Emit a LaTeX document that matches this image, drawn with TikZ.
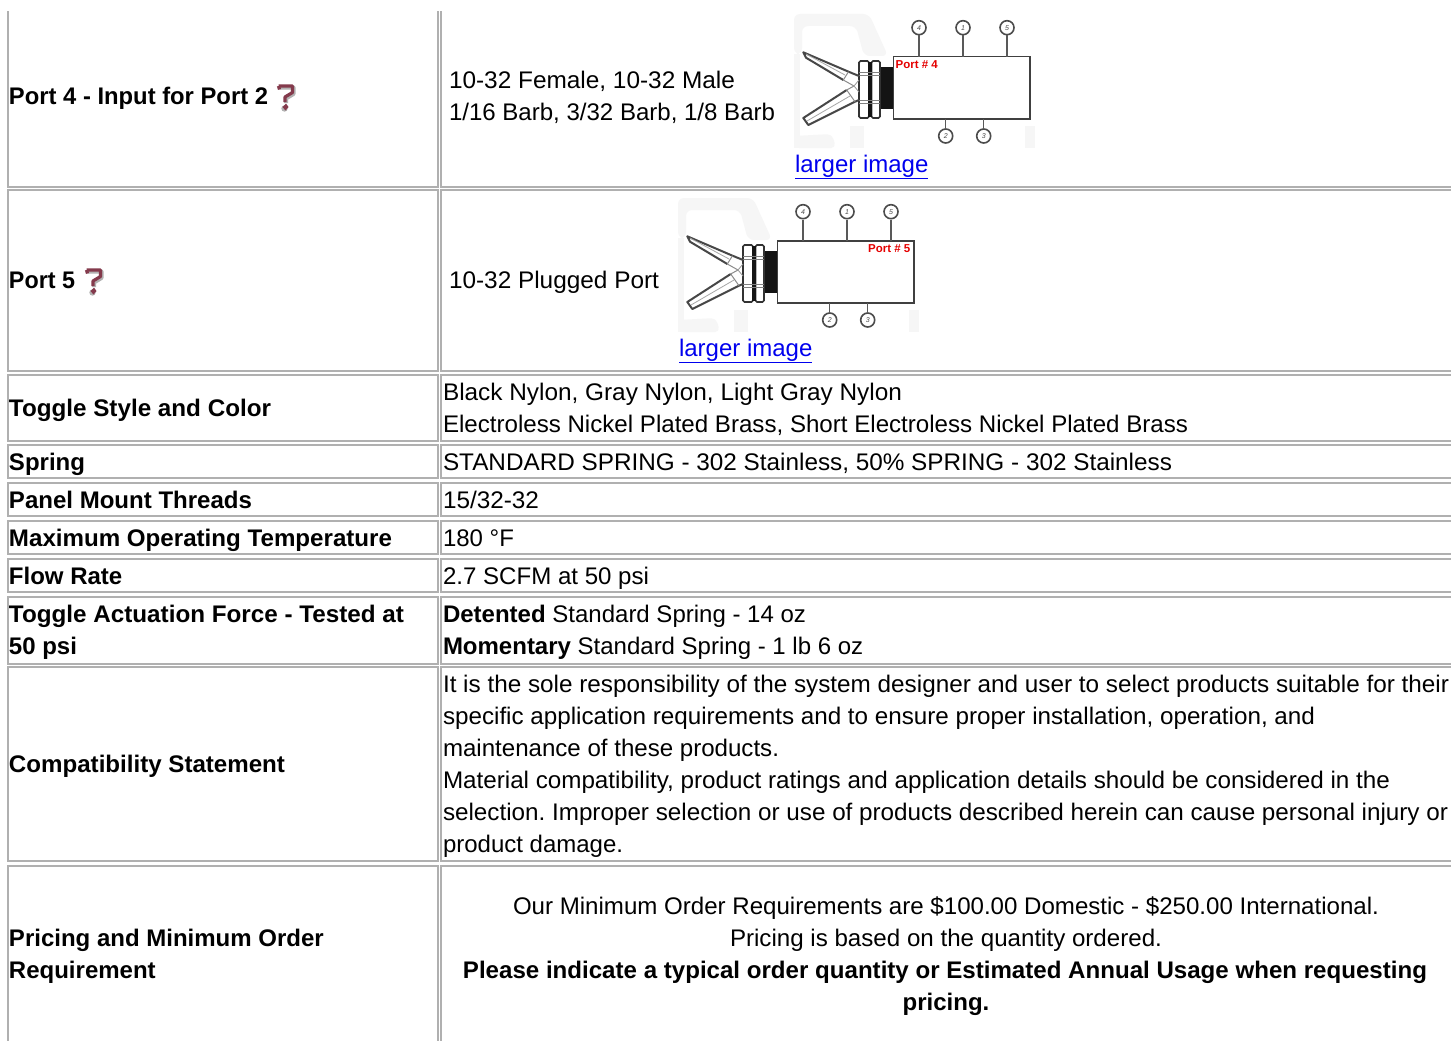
\documentclass[tikz,border=0pt]{standalone}
\usepackage{fontspec}
\setmainfont{Liberation Sans}
\frenchspacing
\definecolor{gridc}{HTML}{B0B0B0}
\definecolor{linkc}{HTML}{0000EE}
\definecolor{tipc}{HTML}{843A4C}
\definecolor{fadec}{HTML}{F6F6F6}
\newcommand{\fitw}[2]{\resizebox{#1pt}{\height}{#2}}
\tikzset{
 cellbox/.style={draw=gridc,line width=2pt},
 txt/.style={anchor=base west,inner sep=0pt,outer sep=0pt,font=\fontsize{24}{32}\selectfont,text=black},
 btxt/.style={txt,font=\fontsize{24}{32}\selectfont\bfseries},
 ctxt/.style={txt,anchor=base},
 cbtxt/.style={btxt,anchor=base},
 lnk/.style={txt,text=linkc},
 callout/.style={circle,draw=black!70,line width=1.6pt,minimum size=14pt,inner sep=0pt,font=\fontsize{7}{7}\selectfont\itshape,text=black!70},
 leader/.style={draw=black!65,line width=1.2pt},
 portlab/.style={anchor=base west,inner sep=0pt,font=\fontsize{11.5}{11.5}\selectfont\bfseries,text=red!90!black},
}
\newcommand{\tipicon}[2]{%
\begin{scope}[shift={(#1,#2)}]
 \draw[black!30,line width=4pt,line join=round] (-6.5,-9.5) -- (7.5,-9.5) -- (7.5,-3) -- (0,1.5) -- (0,6);
 \fill[black!30] (-1.5,11.5) circle (3.2);
 \draw[tipc,line width=3.2pt,line join=round] (-7.5,-11) -- (-6.5,-7.5) (-7.5,-11) -- (6.5,-11) -- (6.5,-4.5) -- (-1,0) -- (-1,5);
 \fill[tipc] (-3.5,10) -- (0,6.5) -- (2.5,10) -- (-0.5,13.5) -- cycle;
\end{scope}}
% #1 prefix, #2 x, #3 y, #4 label x, #5 label text
\newcommand{\portimg}[5]{%
\begin{scope}[shift={(#2,#3)}]
 \fill[fadec,rounded corners=6pt] (0,0) -- (75,0) -- (94,42) -- (70,42) -- (62,12) -- (8,12) -- (8,40) -- (0,40) -- cycle;
 \fill[fadec] (0,40) rectangle (6,134);
 \fill[fadec,rounded corners=5pt] (0,134) -- (0,122) -- (38,120) -- (42,134) -- cycle;
 \fill[fadec] (56,112) rectangle (70,134);
 \fill[fadec] (231,112) rectangle (241,134);
 \fill[black!92] (86,53) rectangle (99.5,95);
 \draw[black!80,line width=1.6pt,fill=white,rounded corners=1.5pt] (65,47) rectangle (75,104);
 \draw[black!80,line width=1.6pt,fill=white,rounded corners=1.5pt] (77.5,47) rectangle (86,104);
 \fill[black!92] (74,48) rectangle (78,103);
 \draw[black!50,line width=.8pt] (65,58) -- (86,58) (65,61) -- (86,61) (65,86) -- (86,86) (65,89) -- (86,89);
 \draw[black!72,line width=2pt,line join=round] (65,62) -- (54.5,57.7) -- (9.3,38.3) -- (12,43.7) -- (49.3,66);
 \draw[black!72,line width=2pt,line join=round] (65,86) -- (61,87.7) -- (14.3,111) -- (9.3,104) -- (52.7,76);
 \draw[black!45,line width=1pt,line join=round] (54.5,57.7) -- (49.3,66) -- (60,72) -- (52.7,76) -- (61,87.7);
 \draw[black!40,line width=.8pt] (60,72) -- (65,66) (60,72) -- (65,78);
 \draw[black!35,line width=.8pt] (12,40) -- (51,61) (13,107) -- (56,82);
 \node[draw=black!75,line width=1.6pt,fill=none,minimum width=136.7pt,minimum height=62.3pt,inner sep=0pt,outer sep=0pt,anchor=north west] (#1body) at (99.3,42.7) {};
 \node[callout] (#1a) at (125,13.7) {4};
 \node[callout] (#1b) at (169,13.7) {1};
 \node[callout] (#1c) at (213,13.7) {5};
 \node[callout] (#1d) at (151.7,122) {2};
 \node[callout] (#1e) at (189.7,122) {3};
 \draw[leader] (#1a) -- (#1a |- #1body.north);
 \draw[leader] (#1b) -- (#1b |- #1body.north);
 \draw[leader] (#1c) -- (#1c |- #1body.north);
 \draw[leader] (#1d) -- (#1d |- #1body.south);
 \draw[leader] (#1e) -- (#1e |- #1body.south);
 \node[portlab] (#1lab) at (#4,54) {#5};
\end{scope}}
\begin{document}
\begin{tikzpicture}[x=1pt,y=-1pt]
\useasboundingbox (0,0) rectangle (1451,1041);
\fill[white] (0,0) rectangle (1451,1041);
\clip (0,0) rectangle (1451,1041);
\foreach \t/\b in {-20/187,190/370.5,375/441,445/478,483/516,521/554,559/592,597/664,667/861,865.5/1080}{
 \draw[cellbox] (8.2,\t) rectangle (438,\b);
 \draw[cellbox] (441,\t) rectangle (1480,\b);
}
\fill[white] (0,0) rectangle (1451,11);
% row labels
\node[btxt] (l1) at (9,104) {\fitw{259}{Port 4 - Input for Port 2}};
\tipicon{286}{97}
\node[btxt] (l2) at (9,288) {\fitw{66}{Port 5}};
\tipicon{94}{281}
\node[btxt] (l3) at (9,416) {\fitw{262}{Toggle Style and Color}};
\node[btxt] (l4) at (9,470) {Spring};
\node[btxt] (l5) at (9,508) {\fitw{243}{Panel Mount Threads}};
\node[btxt] (l6) at (9,546) {\fitw{383}{Maximum Operating Temperature}};
\node[btxt] (l7) at (9,584) {Flow Rate};
\node[btxt] (l8) at (9,622) {\fitw{395}{Toggle Actuation Force - Tested at}};
\node[btxt] (l8b) at (9,654) {50 psi};
\node[btxt] (l9) at (9,772) {\fitw{276}{Compatibility Statement}};
\node[btxt] (l10) at (9,946) {Pricing and Minimum Order};
\node[btxt] (l10b) at (9,978) {Requirement};
% port rows
\node[txt] (v1a) at (449,88.5) {\fitw{286}{10-32 Female, 10-32 Male}};
\node[txt] (v1b) at (449,120.5) {\fitw{326}{1/16 Barb, 3/32 Barb, 1/8 Barb}};
\portimg{pa}{794}{14}{101.5}{Port \# 4}
\node[lnk] (lk1) at (795,172) {\underline{larger image}};
\node[txt] (v2) at (449,288) {\fitw{210}{10-32 Plugged Port}};
\portimg{pb}{678}{198}{190}{Port \# 5}
\node[lnk] (lk2) at (679,356) {\underline{larger image}};
% values
\node[txt] (v3a) at (443,400) {\fitw{459}{Black Nylon, Gray Nylon, Light Gray Nylon}};
\node[txt] (v3b) at (443,432) {\fitw{745}{Electroless Nickel Plated Brass, Short Electroless Nickel Plated Brass}};
\node[txt] (v4) at (443,470) {\fitw{729}{STANDARD SPRING - 302 Stainless, 50\% SPRING - 302 Stainless}};
\node[txt] (v5) at (443,508) {\fitw{96}{15/32-32}};
\node[txt] (v6) at (443,546) {180 °F};
\node[txt] (v7) at (443,584) {\fitw{206}{2.7 SCFM at 50 psi}};
\node[txt] (v8a) at (443,622) {\fitw{363}{\textbf{Detented} Standard Spring - 14 oz}};
\node[txt] (v8b) at (443,654) {\textbf{Momentary} Standard Spring - 1 lb 6 oz};
\node[txt] (v9a) at (443,692) {\fitw{1006}{It is the sole responsibility of the system designer and user to select products suitable for their}};
\node[txt] (v9b) at (443,724) {\fitw{872}{specific application requirements and to ensure proper installation, operation, and}};
\node[txt] (v9c) at (443,756) {\fitw{336}{maintenance of these products.}};
\node[txt] (v9d) at (443,788) {\fitw{947}{Material compatibility, product ratings and application details should be considered in the}};
\node[txt] (v9e) at (443,820) {\fitw{1005}{selection. Improper selection or use of products described herein can cause personal injury or}};
\node[txt] (v9f) at (443,852) {product damage.};
\node[ctxt] (v10a) at (946,914) {\fitw{866}{Our Minimum Order Requirements are \$100.00 Domestic - \$250.00 International.}};
\node[ctxt] (v10b) at (946,946) {\fitw{432}{Pricing is based on the quantity ordered.}};
\node[cbtxt] (v10c) at (945,978) {\fitw{964}{Please indicate a typical order quantity or Estimated Annual Usage when requesting}};
\node[cbtxt] (v10d) at (946,1010) {pricing.};
\end{tikzpicture}
\end{document}
